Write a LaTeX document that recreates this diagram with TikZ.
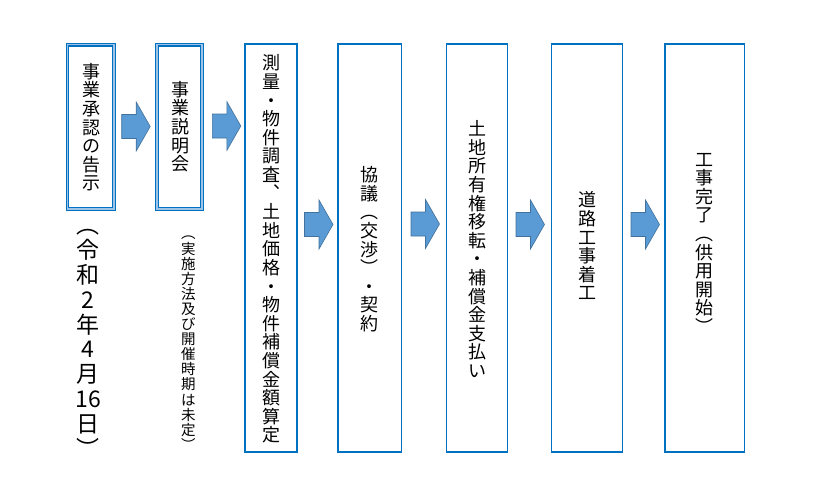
\documentclass[tikz,border=0pt]{standalone}
\usepackage{fontspec}
\newfontfamily\cjk{Noto Sans CJK JP}
\definecolor{boxblue}{HTML}{0070C0}
\definecolor{lightblue}{HTML}{9DC3E6}
\definecolor{arrowfill}{HTML}{5B9BD5}
\definecolor{arrowline}{HTML}{41719C}
\newcommand\blockarrow[2]{%
  \draw[arrowshape] (#1,{#2-12}) -- ++(14.5,0) -- ++(0,-12.5) -- ({#1+28.5},#2)
    -- ({#1+14.5},{#2+24.5}) -- ++(0,-12.5) -- (#1,{#2+12}) -- cycle;}
\begin{document}
\begin{tikzpicture}[x=1pt,y=-1pt,
  dblbox/.style={draw=boxblue,double=lightblue,double distance=1.5pt,line width=1.2pt,inner sep=0pt},
  stepbox/.style={draw=boxblue,line width=1.8pt,inner sep=0pt},
  arrowshape/.style={fill=arrowfill,draw=arrowline,line width=0.6pt,line join=miter},
  vtext/.style={align=center,inner sep=0pt,font=\cjk\fontsize{18}{18.6}\selectfont},
  bigtext/.style={align=center,inner sep=0pt,font=\cjk\fontsize{23}{24.8}\selectfont},
  smalltext/.style={align=center,inner sep=0pt,font=\cjk\fontsize{14.5}{15.1}\selectfont}]
\useasboundingbox (0,0) rectangle (813,487);
\fill[white] (0,0) rectangle (813,487);
% boxes
\node[dblbox,minimum width=46.5,minimum height=164.4] (b1) at (90.75,126.8) {};
\node[dblbox,minimum width=45,minimum height=164.4] (b2) at (179.5,126.8) {};
\node[stepbox,minimum width=52,minimum height=408] (b3) at (271,248) {};
\node[stepbox,minimum width=63.5,minimum height=408] (b4) at (369.75,248) {};
\node[stepbox,minimum width=61,minimum height=408] (b5) at (477,248) {};
\node[stepbox,minimum width=71,minimum height=408] (b6) at (587,248) {};
\node[stepbox,minimum width=79.5,minimum height=408] (b7) at (704.75,248) {};
% texts
\node[vtext] (t1) at (91.5,127.3) {事\\業\\承\\認\\の\\告\\示};
\node[vtext] (t2) at (180,126.7) {事\\業\\説\\明\\会};
\node[vtext] (t3) at (271,249) {測\\量\\・\\物\\件\\調\\査\\︑\\土\\地\\価\\格\\・\\物\\件\\補\\償\\金\\額\\算\\定};
\node[vtext] (t4) at (369.75,249.2) {協\\議\\︵\\交\\渉\\︶\\・\\契\\約};
\node[vtext] (t5) at (477,249.2) {土\\地\\所\\有\\権\\移\\転\\・\\補\\償\\金\\支\\払\\い};
\node[vtext] (t6) at (587,245.8) {道\\路\\工\\事\\着\\工};
\node[vtext] (t7) at (704.75,243.3) {工\\事\\完\\了\\︵\\供\\用\\開\\始\\︶};
\node[bigtext] (t8) at (88.3,343.3) {︵\\令\\和\\2\\年\\4\\月\\16\\日\\︶};
\node[smalltext] (t9) at (188.3,343.3) {︵\\実\\施\\方\\法\\及\\び\\開\\催\\時\\期\\は\\未\\定\\︶};
% arrows
\blockarrow{121.7}{126.5}
\blockarrow{212.3}{126}
\blockarrow{304.5}{224.5}
\blockarrow{411}{224}
\blockarrow{516}{224.5}
\blockarrow{631}{224.5}
\end{tikzpicture}
\end{document}
